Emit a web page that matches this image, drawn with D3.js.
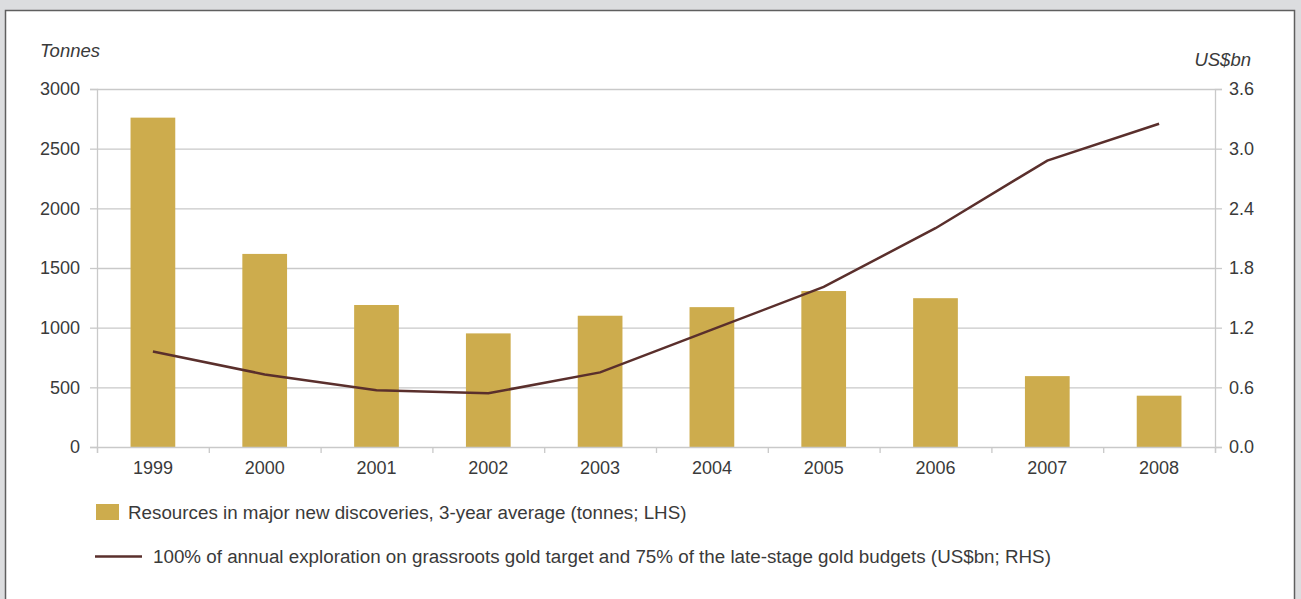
<!DOCTYPE html>
<html>
<head>
<meta charset="utf-8">
<script src="https://cdn.jsdelivr.net/npm/d3@7"></script>
<style>
  body { margin: 0; background: #dcdddf; }
  text { font-family: "Liberation Sans", Arial, sans-serif; fill: #3a3a3a; }
</style>
</head>
<body>
<script>
const WIDTH = 1301;
const HEIGHT = 599;

// Datos
const years = ["1999", "2000", "2001", "2002", "2003", "2004", "2005", "2006", "2007", "2008"];
const tonnes = [2760, 1618, 1190, 952, 1100, 1172, 1307, 1247, 594, 430];
const budget = [0.96, 0.73, 0.57, 0.54, 0.75, 1.18, 1.61, 2.20, 2.88, 3.25];
const leftTicks = [0, 500, 1000, 1500, 2000, 2500, 3000];
const rightTicks = [0, 0.6, 1.2, 1.8, 2.4, 3.0, 3.6];
const legendLabels = [
  "Resources in major new discoveries, 3-year average (tonnes; LHS)",
  "100% of annual exploration on grassroots gold target and 75% of the late-stage gold budgets (US$bn; RHS)"
];

const BAR_COLOR = "#cdac4d";
const LINE_COLOR = "#5a2f2c";
const GRID_COLOR = "#c9c9c9";

const margin = { top: 89, right: 86, bottom: 152, left: 97 };
const ancho = WIDTH - margin.left - margin.right;
const alto = HEIGHT - margin.top - margin.bottom;

const svg = d3.select("body")
  .append("svg")
  .attr("width", WIDTH)
  .attr("height", HEIGHT)
  .style("display", "block");

// Marco blanco con borde
svg.append("rect")
  .attr("x", 5.5).attr("y", 10.5)
  .attr("width", 1289).attr("height", 620)
  .attr("fill", "#fff")
  .attr("stroke", "#5f5f5f")
  .attr("stroke-width", 1.5);

const g = svg.append("g").attr("transform", `translate(${margin.left},${margin.top})`);

// Escalas
const x = d3.scaleBand().domain(years).range([0, ancho]).paddingInner(0.6).paddingOuter(0.3);
const xBorde = d3.scaleLinear().domain([0, years.length]).range([0, ancho]);
const yIzq = d3.scaleLinear().domain([0, 3000]).range([alto, 0]);
const yDer = d3.scaleLinear().domain([0, 3.6]).range([alto, 0]);

// Líneas de grilla
g.selectAll(".grid")
  .data(leftTicks.slice(1))
  .join("line")
  .attr("x1", 0).attr("x2", ancho)
  .attr("y1", d => yIzq(d) + 0.5).attr("y2", d => yIzq(d) + 0.5)
  .attr("stroke", GRID_COLOR).attr("stroke-width", 1.3);

// Barras
g.selectAll(".bar")
  .data(years)
  .join("rect")
  .attr("x", d => x(d))
  .attr("width", x.bandwidth())
  .attr("y", (d, i) => yIzq(tonnes[i]))
  .attr("height", (d, i) => alto - yIzq(tonnes[i]))
  .attr("fill", BAR_COLOR);

// Ejes
const ejeIzq = g.append("g")
  .call(d3.axisLeft(yIzq).tickValues(leftTicks).tickSize(7).tickPadding(10).tickFormat(d3.format("d")));
const ejeDer = g.append("g")
  .attr("transform", `translate(${ancho},0)`)
  .call(d3.axisRight(yDer).tickValues(rightTicks).tickSize(7).tickPadding(7).tickFormat(d3.format(".1f")));
const ejeX = g.append("g")
  .attr("transform", `translate(0,${alto})`)
  .call(d3.axisBottom(xBorde).tickValues(d3.range(years.length + 1)).tickSize(6).tickFormat(""));

[ejeIzq, ejeDer, ejeX].forEach(eje => {
  eje.select(".domain").attr("stroke", GRID_COLOR).attr("stroke-width", 1.3);
  eje.selectAll(".tick line").attr("stroke", GRID_COLOR).attr("stroke-width", 1.3);
  eje.selectAll("text").style("font-size", "18px").attr("fill", "#3a3a3a");
});

// Etiquetas de años
g.selectAll(".year")
  .data(years)
  .join("text")
  .attr("x", d => x(d) + x.bandwidth() / 2)
  .attr("y", alto + 27)
  .attr("text-anchor", "middle")
  .style("font-size", "18px")
  .text(d => d);

// Línea del presupuesto
const linea = d3.line()
  .x((d, i) => x(years[i]) + x.bandwidth() / 2)
  .y(d => yDer(d));

g.append("path")
  .datum(budget)
  .attr("d", linea)
  .attr("fill", "none")
  .attr("stroke", LINE_COLOR)
  .attr("stroke-width", 2.5);

// Títulos de ejes
svg.append("text")
  .attr("x", 40).attr("y", 57)
  .style("font-size", "18.5px").style("font-style", "italic")
  .text("Tonnes");
svg.append("text")
  .attr("x", 1251).attr("y", 66)
  .attr("text-anchor", "end")
  .style("font-size", "18.5px").style("font-style", "italic")
  .text("US$bn");

// Leyenda
svg.append("rect")
  .attr("x", 96).attr("y", 504)
  .attr("width", 23).attr("height", 16)
  .attr("fill", BAR_COLOR);
svg.append("text")
  .attr("x", 128).attr("y", 519)
  .style("font-size", "18.8px")
  .text(legendLabels[0]);

svg.append("line")
  .attr("x1", 95).attr("x2", 142)
  .attr("y1", 556.5).attr("y2", 556.5)
  .attr("stroke", LINE_COLOR).attr("stroke-width", 2.5);
svg.append("text")
  .attr("x", 153).attr("y", 563)
  .style("font-size", "18.8px")
  .text(legendLabels[1]);
</script>
</body>
</html>
